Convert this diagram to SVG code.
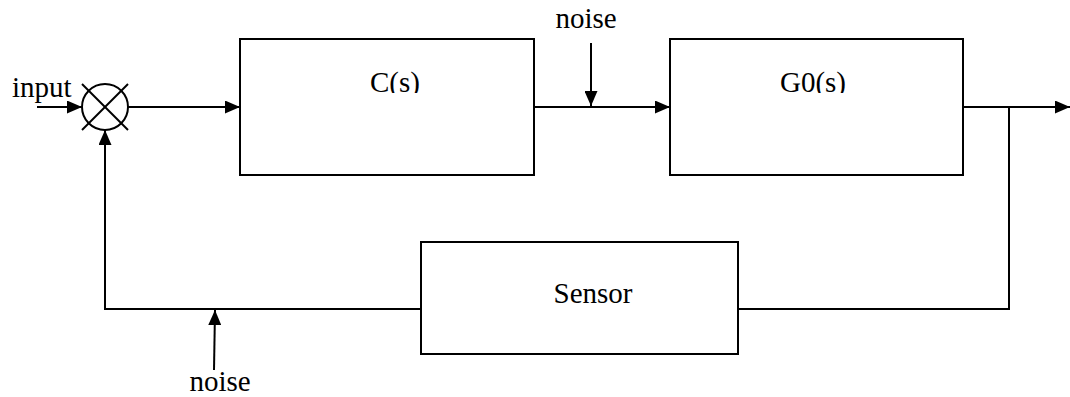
<svg xmlns="http://www.w3.org/2000/svg" width="1070" height="397" viewBox="0 0 1070 397">
<style>
.box{fill:#fff;stroke:#000;stroke-width:2}
.ln{fill:none;stroke:#000;stroke-width:2}
.t{font-family:"Liberation Serif","Times New Roman",serif;font-size:29px;fill:#000}
</style>
<defs>
<marker id="ah" viewBox="0 0 15 13" refX="15" refY="6.5" markerWidth="15" markerHeight="13" markerUnits="userSpaceOnUse" orient="auto">
<path d="M0,0 L15,6.5 L0,13 Z" fill="#000"/>
</marker>
<clipPath id="clipTxt"><rect x="0" y="0" width="1070" height="93"/></clipPath>
</defs>
<rect width="1070" height="397" fill="#fff"/>
<g id="connectors">
<line class="ln" x1="37" y1="107" x2="82" y2="107" marker-end="url(#ah)"/>
<line class="ln" x1="128" y1="107" x2="240" y2="107" marker-end="url(#ah)"/>
<line class="ln" x1="534" y1="107" x2="670" y2="107" marker-end="url(#ah)"/>
<line class="ln" x1="591" y1="43" x2="591" y2="106" marker-end="url(#ah)"/>
<line class="ln" x1="963" y1="107" x2="1070" y2="107" marker-end="url(#ah)"/>
<polyline class="ln" points="1009,107 1009,309 738,309"/>
<polyline class="ln" points="421,309 105,309 105,130" marker-end="url(#ah)"/>
<line class="ln" x1="214" y1="370" x2="215" y2="310" marker-end="url(#ah)"/>
</g>
<g id="sum">
<circle cx="105" cy="107" r="23" fill="none" stroke="#000" stroke-width="2"/>
<line class="ln" x1="82" y1="84" x2="128" y2="130"/>
<line class="ln" x1="128" y1="84" x2="82" y2="130"/>
</g>
<g id="C">
<rect class="box" x="240" y="39" width="294" height="136"/>
<text class="t" x="395" y="92" text-anchor="middle" clip-path="url(#clipTxt)">C(s)</text>
</g>
<g id="G0">
<rect class="box" x="670" y="39" width="293" height="136"/>
<text class="t" x="813" y="92" text-anchor="middle" clip-path="url(#clipTxt)">G0(s)</text>
</g>
<g id="Sensor">
<rect class="box" x="421" y="242" width="317" height="112"/>
<text class="t" x="593" y="303" text-anchor="middle">Sensor</text>
</g>
<g id="labels">
<text class="t" x="12" y="97">input</text>
<text class="t" x="586" y="28" text-anchor="middle">noise</text>
<text class="t" x="220" y="391" text-anchor="middle">noise</text>
</g>
</svg>
